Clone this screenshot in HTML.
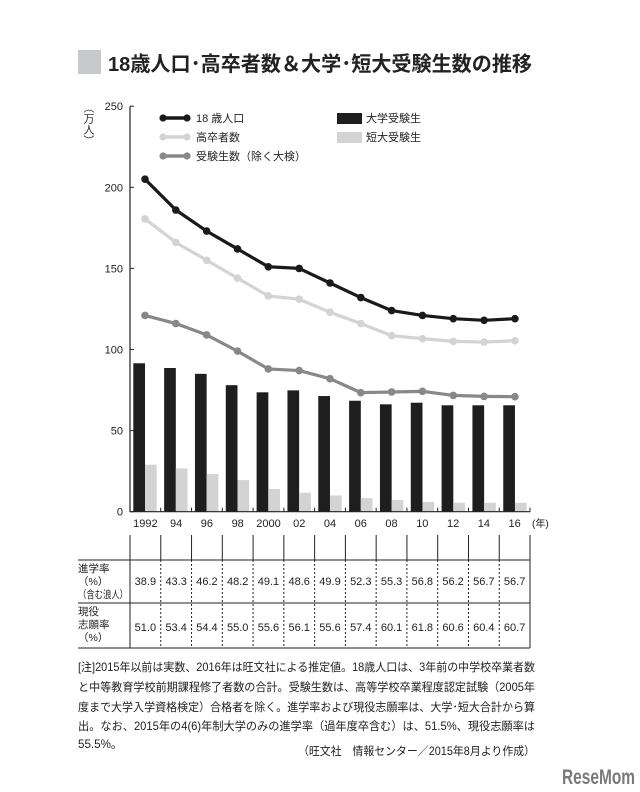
<!DOCTYPE html>
<html><head><meta charset="utf-8">
<style>
body{margin:0;background:#fff;}
svg{display:block;font-family:"Liberation Sans","Noto Sans CJK JP",sans-serif;}
</style></head>
<body>
<svg id="c" width="640" height="792" viewBox="0 0 640 792">
<rect x="78" y="50" width="23" height="24" fill="#c8c9cb"/>
<text x="108" y="71" font-size="20.5" font-weight="bold" fill="#222" textLength="424" lengthAdjust="spacingAndGlyphs">18歳人口･高卒者数＆大学･短大受験生数の推移</text>
<text x="88" y="102" font-size="11" fill="#333" writing-mode="tb">（万人）</text>
<g id="yaxis"></g>
<g id="bars"></g>
<g id="lines"></g>
<g id="xaxis"></g>
<g id="legend">
 <g><line x1="163" y1="118" x2="187" y2="118" stroke="#1a1a1a" stroke-width="3.5"/><circle cx="163" cy="118" r="3.6" fill="#1a1a1a"/><circle cx="187" cy="118" r="3.6" fill="#1a1a1a"/><text x="196" y="122" font-size="11" fill="#222">18 歳人口</text></g>
 <g><line x1="163" y1="137" x2="187" y2="137" stroke="#d3d3d3" stroke-width="3.5"/><circle cx="163" cy="137" r="3.6" fill="#d3d3d3"/><circle cx="187" cy="137" r="3.6" fill="#d3d3d3"/><text x="196" y="141" font-size="11" fill="#222">高卒者数</text></g>
 <g><line x1="163" y1="156" x2="187" y2="156" stroke="#888" stroke-width="3.5"/><circle cx="163" cy="156" r="3.6" fill="#888"/><circle cx="187" cy="156" r="3.6" fill="#888"/><text x="196" y="160" font-size="11" fill="#222">受験生数（除く大検）</text></g>
 <g><rect x="337" y="113" width="25" height="11" fill="#1e1e1e"/><text x="366" y="122" font-size="11" fill="#222">大学受験生</text></g>
 <g><rect x="337" y="132" width="25" height="11" fill="#d3d3d3"/><text x="366" y="141" font-size="11" fill="#222">短大受験生</text></g>
</g>
<g id="table"></g>
<g font-size="11.6" fill="#222">
<text x="78" y="671" textLength="457" lengthAdjust="spacingAndGlyphs">[注]2015年以前は実数、2016年は旺文社による推定値。18歳人口は、3年前の中学校卒業者数</text>
<text x="78" y="691" textLength="457" lengthAdjust="spacingAndGlyphs">と中等教育学校前期課程修了者数の合計。受験生数は、高等学校卒業程度認定試験（2005年</text>
<text x="78" y="711" textLength="457" lengthAdjust="spacingAndGlyphs">度まで大学入学資格検定）合格者を除く。進学率および現役志願率は、大学･短大合計から算</text>
<text x="78" y="730" textLength="457" lengthAdjust="spacingAndGlyphs">出。なお、2015年の4(6)年制大学のみの進学率（過年度卒含む）は、51.5%、現役志願率は</text>
<text x="78" y="748">55.5%。</text>
<text x="535" y="755" text-anchor="end" textLength="237" lengthAdjust="spacingAndGlyphs">（旺文社　情報センター／2015年8月より作成）</text>
</g>
<text x="562" y="784" font-size="21" font-weight="bold" fill="#7a7a7a" textLength="73" lengthAdjust="spacingAndGlyphs">ReseMom</text>
</svg>
<script>
const years=["1992","94","96","98","2000","02","04","06","08","10","12","14","16"];
const pop18=[205,186,173,162,151,150,141,132,124,121,119,118,119];
const grads=[180.5,166,155,144,133,131,123,116,108.5,106.7,105,104.6,105.4];
const examinees=[121,116,109,99,88,87,82,73.4,73.8,74.2,71.7,71.1,70.9];
const univ=[91.5,88.6,85,78,73.6,74.8,71.3,68.4,66.2,67.2,65.6,65.6,65.6];
const jc=[29,26.7,23.2,19.5,14,11.7,10,8.4,7.2,6,5.5,5.5,5.5];
const yTicks=[0,50,100,150,200,250];
const rate1=["38.9","43.3","46.2","48.2","49.1","48.6","49.9","52.3","55.3","56.8","56.2","56.7","56.7"];
const rate2=["51.0","53.4","54.4","55.0","55.6","56.1","55.6","57.4","60.1","61.8","60.6","60.4","60.7"];
const NS="http://www.w3.org/2000/svg";
function y(v){return 511.7-v*1.622;}
function x(i){return 145+i*30.83;}
function mk(tag,attrs,parent,text){const e=document.createElementNS(NS,tag);for(const k in attrs)e.setAttribute(k,attrs[k]);if(text!==undefined)e.textContent=text;parent.appendChild(e);return e;}
const ya=document.getElementById('yaxis');
mk('line',{x1:130,y1:y(250),x2:130,y2:y(0),stroke:'#222','stroke-width':1.2},ya);
yTicks.forEach(t=>{
 const l=mk('line',{x1:130,y1:y(t),x2:134,y2:y(t),stroke:'#222'},ya);
 
 
 const tx=mk('text',{x:123,y:y(t)+4,'font-size':11,'text-anchor':'end',fill:'#222'},ya,String(t));
 
 
});
const bg=document.getElementById('bars');
years.forEach((yr,i)=>{
 const b=mk('rect',{x:x(i)-11.7,y:y(univ[i]),width:11.7,height:y(0)-y(univ[i]),fill:'#1e1e1e'},bg);
 
 
 const c=mk('rect',{x:x(i),y:y(jc[i]),width:11.7,height:y(0)-y(jc[i]),fill:'#d3d3d3'},bg);
 
 
});
const lg=document.getElementById('lines');
[[grads,'#d3d3d3','graduates'],[examinees,'#888','examinees'],[pop18,'#1a1a1a','pop18']].forEach(([arr,col,nm])=>{
 const p=mk('polyline',{points:arr.map((v,i)=>x(i)+','+y(v)).join(' '),fill:'none',stroke:col,'stroke-width':3.2,'stroke-linejoin':'round'},lg);
 
 
 arr.forEach((v,i)=>{const c=mk('circle',{cx:x(i),cy:y(v),r:3.8,fill:col},lg);
  
  });
});
const xa=document.getElementById('xaxis');
mk('line',{x1:130,y1:y(0),x2:530,y2:y(0),stroke:'#222','stroke-width':1.2},xa);
const tab=document.getElementById('table');
const cols=[130];for(let i=0;i<13;i++)cols.push(130+(i+1)*30.77);
cols.forEach((cx,k)=>{
 mk('line',{x1:cx,y1:y(0)-4,x2:cx,y2:y(0),stroke:'#222'},xa);
 mk('line',{x1:cx,y1:535,x2:cx,y2:560,stroke:'#222'},tab);
 mk('line',{x1:cx,y1:560,x2:cx,y2:648,stroke:'#222','stroke-dasharray':(k==0||k==13)?'none':'2,2'},tab);
});
years.forEach((yr,i)=>{
 const cx=(cols[i]+cols[i+1])/2;
 const t=mk('text',{x:cx,y:527,'font-size':11,'text-anchor':'middle',fill:'#222'},xa,yr);
 
 
 const a=mk('text',{x:cx,y:585,'font-size':11,'text-anchor':'middle',fill:'#222'},tab,rate1[i]);
 
 
 const b=mk('text',{x:cx,y:631,'font-size':11,'text-anchor':'middle',fill:'#222'},tab,rate2[i]);
 
 
});
mk('text',{x:532,y:527,'font-size':10,fill:'#222'},xa,'(年)');
[560,603,648].forEach(yy=>mk('line',{x1:78,y1:yy,x2:530,y2:yy,stroke:'#222','stroke-width':1},tab));
[['進学率',572,0],['（%）',585,0],['（含む浪人）',598,50],['現役',615,0],['志願率',628,0],['（%）',641,0]].forEach(([s,yy,w])=>{
 const at={x:78,y:yy,'font-size':10.5,fill:'#222'};
 if(w){at.textLength=w;at.lengthAdjust='spacingAndGlyphs';}
 mk('text',at,tab,s);
});
</script>
</body></html>
